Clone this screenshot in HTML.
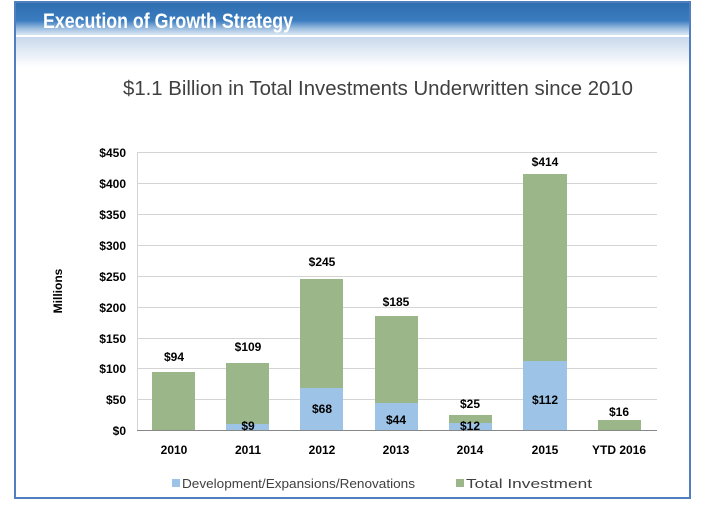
<!DOCTYPE html>
<html><head><style>
body{margin:0;width:710px;height:502px;background:#fff;overflow:hidden;font-family:"Liberation Sans",sans-serif}
</style></head><body>
<svg width="710" height="502" viewBox="0 0 710 502" xmlns="http://www.w3.org/2000/svg">
<defs>
<linearGradient id="hd" x1="0" y1="0" x2="0" y2="1">
<stop offset="0" stop-color="#2e6eb0"/><stop offset="0.55" stop-color="#3b7cc0"/><stop offset="0.8" stop-color="#9fbfe0"/><stop offset="1" stop-color="#dbe7f4"/>
</linearGradient>
<linearGradient id="sh" x1="0" y1="0" x2="0" y2="1">
<stop offset="0" stop-color="#c9d9ec"/><stop offset="1" stop-color="#ffffff"/>
</linearGradient>
</defs>
<rect x="15" y="2" width="675" height="496" fill="#fff" stroke="#4f7fc0" stroke-width="2"/>
<rect x="16" y="3" width="673" height="32" fill="url(#hd)"/>
<rect x="16" y="37" width="673" height="30" fill="url(#sh)"/>
<text x="43" y="28" fill="#fff" font-size="21" font-weight="bold" textLength="250" lengthAdjust="spacingAndGlyphs">Execution of Growth Strategy</text>
<text x="123" y="95" fill="#404040" font-size="20" textLength="510" lengthAdjust="spacingAndGlyphs">$1.1 Billion in Total Investments Underwritten since 2010</text>
<g stroke="#d4d4d4" stroke-width="1">
<line x1="137" x2="657" y1="152.5" y2="152.5"/><line x1="137" x2="657" y1="183.5" y2="183.5"/>
<line x1="137" x2="657" y1="214.5" y2="214.5"/><line x1="137" x2="657" y1="245.5" y2="245.5"/>
<line x1="137" x2="657" y1="276.5" y2="276.5"/><line x1="137" x2="657" y1="307.5" y2="307.5"/>
<line x1="137" x2="657" y1="338.5" y2="338.5"/><line x1="137" x2="657" y1="368.5" y2="368.5"/>
<line x1="137" x2="657" y1="399.5" y2="399.5"/>
<line x1="137.5" x2="137.5" y1="152" y2="430"/>
</g>
<g font-size="12" font-weight="bold" fill="#000" text-anchor="end">
<text x="126" y="157">$450</text><text x="126" y="188">$400</text><text x="126" y="219">$350</text>
<text x="126" y="250">$300</text><text x="126" y="281">$250</text><text x="126" y="312">$200</text>
<text x="126" y="343">$150</text><text x="126" y="373">$100</text><text x="126" y="404">$50</text>
<text x="126" y="435">$0</text>
</g>
<text transform="translate(62 291) rotate(-90)" font-size="12" font-weight="bold" text-anchor="middle">Millions</text>
<g fill="#9bb78a">
<rect x="152" y="372" width="43" height="58"/>
<rect x="226" y="363" width="43" height="67"/>
<rect x="300" y="279" width="43" height="151"/>
<rect x="375" y="316" width="43" height="114"/>
<rect x="449" y="415" width="43" height="15"/>
<rect x="523" y="174" width="44" height="256"/>
<rect x="598" y="420" width="43" height="10"/>
</g>
<g fill="#9dc3e6">
<rect x="226" y="424" width="43" height="6"/>
<rect x="300" y="388" width="43" height="42"/>
<rect x="375" y="403" width="43" height="27"/>
<rect x="449" y="423" width="43" height="7"/>
<rect x="523" y="361" width="44" height="69"/>
</g>
<line x1="137" x2="657" y1="430.5" y2="430.5" stroke="#888" stroke-width="1"/>
<g font-size="12" font-weight="bold" text-anchor="middle" fill="#000">
<text x="174" y="361">$94</text><text x="248" y="351">$109</text><text x="322" y="266">$245</text>
<text x="396" y="306">$185</text><text x="470" y="408">$25</text><text x="545" y="166">$414</text>
<text x="619" y="416">$16</text>
<text x="248" y="430">$9</text><text x="322" y="413">$68</text><text x="396" y="424">$44</text>
<text x="470" y="430">$12</text><text x="545" y="404">$112</text>
<text x="174" y="454">2010</text><text x="248" y="454">2011</text><text x="322" y="454">2012</text>
<text x="396" y="454">2013</text><text x="470" y="454">2014</text><text x="545" y="454">2015</text>
<text x="619" y="454">YTD 2016</text>
</g>
<rect x="172" y="479" width="8" height="8" fill="#9dc3e6"/>
<text x="182" y="488" font-size="13" fill="#404040" textLength="233" lengthAdjust="spacingAndGlyphs">Development/Expansions/Renovations</text>
<rect x="456" y="479" width="8" height="8" fill="#9bb78a"/>
<text x="466" y="488" font-size="13" fill="#404040" textLength="126" lengthAdjust="spacingAndGlyphs">Total Investment</text>
</svg>
</body></html>
